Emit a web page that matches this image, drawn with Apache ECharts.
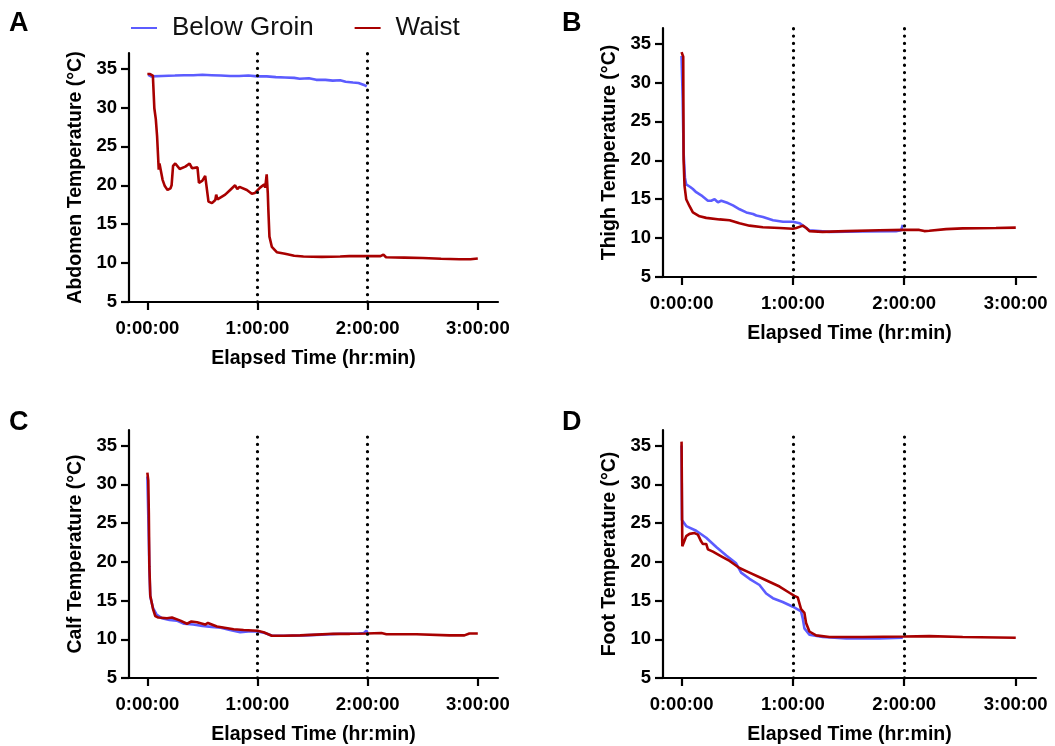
<!DOCTYPE html>
<html><head><meta charset="utf-8">
<script src="https://cdn.jsdelivr.net/npm/echarts@6/dist/echarts.min.js"></script>
<style>html,body{margin:0;padding:0;background:#fff}#c{width:1055px;height:746px}</style>
</head><body><div id="c"></div>
<script>
// Elapsed time in minutes, temperature in °C
const seriesNames = ['Below Groin', 'Waist'];
const xTicks = [0, 60, 120, 180];
const xTickLabels = ['0:00:00', '1:00:00', '2:00:00', '3:00:00'];
const yTicks = [5, 10, 15, 20, 25, 30, 35];
const phaseLines = [60, 120];
const panelLetters = ['A', 'B', 'C', 'D'];
const yTitles = ['Abdomen Temperature (°C)', 'Thigh Temperature (°C)', 'Calf Temperature (°C)', 'Foot Temperature (°C)'];

const abdomenGroin = [[0.5,34.2],[2,34.0],[8,34.05],[15,34.1],[20,34.15],[25,34.15],[30,34.2],[35,34.15],[40,34.1],[45,34.05],[50,34.05],[55,34.1],[60,34.0],[65,34.0],[70,33.9],[75,33.85],[80,33.8],[83,33.7],[88,33.75],[92,33.55],[97,33.55],[101,33.45],[105,33.5],[108,33.3],[112,33.2],[115,33.15],[118,32.9],[119.5,32.7]];
const abdomenWaist = [[0,34.3],[1.5,34.3],[3,34.1],[3.8,29.9],[4.6,28.5],[5.3,26.3],[5.6,26.2],[6.2,22.0],[6.6,22.8],[7.4,22.6],[8.3,20.7],[9.5,19.9],[11,19.4],[12.6,19.6],[13.2,20.0],[14,22.5],[15.2,22.8],[17.6,22.1],[20.7,22.4],[23,22.8],[24.3,22.2],[27.3,22.3],[28.1,20.3],[30,20.6],[31.5,21.2],[32.4,21.1],[33.3,17.9],[35.2,17.7],[37,18.1],[37.5,18.8],[38.2,18.2],[42.4,18.8],[45.1,19.4],[47.8,20.0],[49,19.5],[50.2,19.8],[54.2,19.4],[56.9,18.9],[58.5,19.0],[61.4,19.7],[63.6,20.1],[64.2,19.7],[65,21.4],[65.6,19.0],[65.9,16.9],[66.5,13.4],[67.8,12.1],[70.5,11.4],[75,11.2],[80,10.95],[85,10.85],[95,10.8],[105,10.85],[110,10.9],[120,10.9],[127,10.9],[128.6,11.1],[130,10.75],[140,10.7],[150,10.65],[160,10.55],[170,10.5],[176,10.5],[180,10.6]];

const thighGroin = [[0,33.4],[0.6,28],[1.1,21],[1.8,17.8],[2.5,16.9],[4.5,16.6],[6.1,16.3],[7.9,15.9],[10.6,15.5],[14.2,14.8],[16,14.8],[17.8,15.0],[19.6,14.6],[21.4,14.8],[25,14.5],[25.9,14.7],[27.7,14.2],[31.3,13.7],[34.9,13.3],[38.5,13.1],[40.3,12.9],[43.9,12.7],[49.3,12.3],[54.7,12.1],[60,12.1],[63.7,11.9],[65.4,11.6],[68.9,11.0],[79.7,10.8],[97.6,10.85],[115.6,10.9],[118.3,11.0],[119.2,11.7]];
const thighWaist = [[0,33.9],[0.9,33.3],[1.1,20.1],[1.6,16.7],[2.5,15.0],[4.3,14.1],[6.1,13.3],[9.7,12.8],[13.3,12.6],[20.5,12.4],[25.9,12.3],[31.2,11.9],[36.6,11.6],[43.8,11.4],[52.8,11.3],[60,11.2],[61.8,11.3],[65.4,11.6],[67.2,11.3],[68.9,10.9],[76,10.8],[88.7,10.9],[106.6,11.0],[120,11.05],[128.1,11.05],[129,11.25],[130.8,10.9],[133.5,10.95],[142.5,11.15],[151.5,11.25],[169.4,11.3],[180.1,11.35]];

const calfGroin = [[0,31.0],[0.6,25],[1.1,19],[1.6,15.5],[3.1,14.0],[3.8,13.9],[5,13.2],[8,12.7],[12,12.5],[16,12.4],[20,12.0],[25,11.9],[30,11.7],[35,11.6],[40,11.5],[45,11.2],[50.6,10.9],[55,11.0],[60,11.0],[64,10.8],[68,10.45],[75,10.45],[85,10.5],[95,10.6],[105,10.7],[115,10.75],[118,10.8],[119.3,11.1],[120,10.8]];
const calfWaist = [[0,31.5],[0.5,30.5],[0.8,26.3],[1.1,19.4],[1.6,15.6],[3.1,13.9],[4.3,13.0],[6,12.8],[10.7,12.7],[13.4,12.8],[14.3,12.6],[18,12.4],[21.6,12.0],[24,12.3],[27,12.2],[31.5,11.9],[33,12.1],[37.9,11.65],[47,11.3],[52.4,11.2],[60,11.1],[63.3,10.9],[67.8,10.45],[74.1,10.45],[83.2,10.5],[92.3,10.6],[101.3,10.7],[110.3,10.7],[119.4,10.75],[127.5,10.8],[128.4,11.0],[130.2,10.65],[146.5,10.65],[164.6,10.5],[172.7,10.5],[175.4,10.75],[180,10.75]];

const footGroin = [[0,35.0],[0.2,25.4],[2.5,24.6],[7.9,24.0],[13.3,23.1],[18.7,21.9],[24.1,20.8],[29.4,19.8],[32.1,18.6],[36.6,17.8],[42,17.0],[45.6,15.9],[49.2,15.3],[54.5,14.8],[60,14.2],[64.4,13.6],[65.3,12.7],[66.2,11.4],[68.9,10.6],[76.1,10.3],[88.7,10.1],[106.6,10.1],[119.2,10.2]];
const footWaist = [[0,35.5],[0.4,22.0],[1.1,22.2],[2.5,23.3],[4.3,23.6],[7,23.7],[8.8,23.5],[10.6,22.6],[11.5,22.3],[13.3,22.3],[14.2,21.6],[16.9,21.3],[21.4,20.7],[25.9,20.1],[31.2,19.2],[36.6,18.6],[43.8,17.8],[52.8,16.8],[58.1,16.0],[60.8,15.6],[62.6,15.4],[64.4,13.9],[66.2,13.4],[67.1,12.1],[68.9,11.0],[72.5,10.5],[79.7,10.3],[97.6,10.3],[120,10.35],[133.5,10.4],[151.5,10.3],[180.1,10.2]];

const panelData = [[abdomenGroin, abdomenWaist],[thighGroin, thighWaist],[calfGroin, calfWaist],[footGroin, footWaist]];

const colors = ['#5c5cff', '#a80000'];
const FONT = '"Liberation Sans", Arial, sans-serif';
const grids = [
  {left:129, top:53, width:369, height:249},
  {left:663, top:28, width:373, height:249},
  {left:129, top:430, width:369, height:249},
  {left:663, top:430, width:373, height:249}
];
const letterPos = [[9,10],[562,10],[9,409],[562,409]];

const chart = echarts.init(document.getElementById('c'), null, {renderer:'canvas'});
const xAxes = [], yAxes = [], series = [], titles = [];
grids.forEach((g, i) => {
  xAxes.push({
    type:'value', gridIndex:i, min:-10, max:191,
    name:'Elapsed Time (hr:min)', nameLocation:'middle', nameGap:47,
    nameTextStyle:{fontFamily:FONT, fontWeight:'bold', fontSize:19.5, color:'#000'},
    axisLine:{show:true, onZero:false, lineStyle:{color:'#000', width:2.2}},
    axisTick:{show:true, length:8, lineStyle:{color:'#000', width:2.2}, customValues:xTicks},
    axisLabel:{fontFamily:FONT, fontWeight:'bold', fontSize:18.5, color:'#000', margin:17, customValues:xTicks,
      formatter:(v)=>{const k=xTicks.indexOf(v); return k>=0?xTickLabels[k]:'';}},
    splitLine:{show:false}
  });
  yAxes.push({
    type:'value', gridIndex:i, min:5, max:37,
    name:yTitles[i], nameLocation:'middle', nameGap:43, nameRotate:90,
    nameTextStyle:{fontFamily:FONT, fontWeight:'bold', fontSize:19.5, color:'#000'},
    axisLine:{show:true, onZero:false, lineStyle:{color:'#000', width:2.2}},
    axisTick:{show:true, length:8, lineStyle:{color:'#000', width:2.2}, customValues:yTicks},
    axisLabel:{fontFamily:FONT, fontWeight:'bold', fontSize:18.5, color:'#000', margin:12, customValues:yTicks},
    splitLine:{show:false}
  });
  panelData[i].forEach((d, s) => {
    const ser = {
      type:'line', name:seriesNames[s], xAxisIndex:i, yAxisIndex:i, data:d,
      showSymbol:false, symbol:'none', smooth:false, animation:false, z: 3 + s,
      lineStyle:{color:colors[s], width:2.6}, itemStyle:{color:colors[s]}
    };
    if (s === 0) {
      ser.markLine = {
        silent:true, symbol:'none', animation:false, label:{show:false},
        lineStyle:{color:'#000', type:[0.1,7.2], width:3.2, cap:'round'},
        data: phaseLines.map(v=>({xAxis:v}))
      };
    }
    series.push(ser);
  });
  titles.push({text:panelLetters[i], left:letterPos[i][0], top:letterPos[i][1], padding:0,
    textStyle:{fontFamily:FONT, fontWeight:'bold', fontSize:27, color:'#000'}});
});

chart.setOption({
  animation:false,
  backgroundColor:'#fff',
  title:titles,
  legend:{
    data:seriesNames, left:131, top:15, padding:0, itemWidth:26, itemHeight:2, itemGap:41, icon:'rect',
    textStyle:{fontFamily:FONT, fontSize:26, color:'#111', padding:[0,0,0,10]}
  },
  grid:grids.map(g=>Object.assign({containLabel:false}, g)),
  xAxis:xAxes, yAxis:yAxes, series:series
});
</script></body></html>
